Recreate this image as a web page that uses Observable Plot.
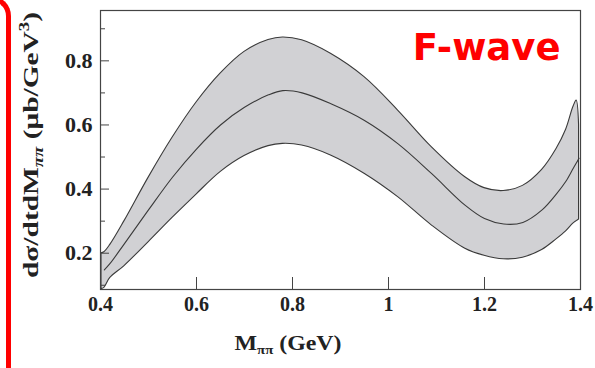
<!DOCTYPE html>
<html><head><meta charset="utf-8">
<script src="https://cdn.jsdelivr.net/npm/d3@7"></script>
<script src="https://cdn.jsdelivr.net/npm/@observablehq/plot@0.6"></script>
<style>
html,body{margin:0;padding:0;background:#fff;overflow:hidden}
#wrap{position:relative;width:595px;height:368px;overflow:hidden}
#redline{position:absolute;left:-200px;top:-4px;width:211px;height:500px;box-sizing:border-box;border-right:5.5px solid #ff0000;border-top:5.5px solid #ff0000;border-top-right-radius:20px;z-index:2}
svg{display:block;overflow:visible}
</style></head><body><div id="wrap"><div id="redline"></div></div>
<script>
// M_pipi (GeV)
const mass   = [0.402, 0.408, 0.42, 0.45, 0.50, 0.55, 0.60, 0.65, 0.70, 0.75, 0.78, 0.82, 0.88, 0.95, 1.02, 1.09, 1.16, 1.20, 1.24, 1.28, 1.32, 1.35, 1.37, 1.385, 1.392, 1.397];
const lower  = [0.088, 0.092, 0.122, 0.160, 0.234, 0.310, 0.383, 0.453, 0.503, 0.534, 0.541, 0.536, 0.505, 0.448, 0.375, 0.287, 0.214, 0.192, 0.181, 0.186, 0.210, 0.243, 0.268, 0.292, 0.300, 0.305];
const center = [null, 0.148, 0.168, 0.230, 0.335, 0.437, 0.525, 0.600, 0.655, 0.694, 0.707, 0.700, 0.666, 0.614, 0.541, 0.448, 0.349, 0.308, 0.291, 0.296, 0.335, 0.385, 0.425, 0.465, 0.483, 0.496];
const upper  = [0.200, 0.203, 0.225, 0.300, 0.435, 0.560, 0.670, 0.760, 0.828, 0.865, 0.873, 0.864, 0.822, 0.749, 0.645, 0.531, 0.437, 0.403, 0.394, 0.410, 0.460, 0.525, 0.585, 0.655, 0.676, 0.600];

const xTicks = [0.4, 0.6, 0.8, 1, 1.2, 1.4];
const xTickLabels = ["0.4", "0.6", "0.8", "1", "1.2", "1.4"];
const yTicks = [0.2, 0.4, 0.6, 0.8];
const yTickLabels = ["0.2", "0.4", "0.6", "0.8"];
const yMinorTicks = [0.1, 0.3, 0.5, 0.7, 0.9];
const panelLabel = "F-wave";

const rows = mass.map((m, i) => ({m, lo: lower[i], c: center[i], hi: upper[i]}));
const serif = "'Liberation Serif', 'Times New Roman', serif";
const ink = "#3a3a3a";

const chart = Plot.plot({
  width: 595, height: 368,
  marginLeft: 100, marginRight: 15, marginTop: 10, marginBottom: 79,
  x: {domain: [0.4, 1.4]},
  y: {domain: [0.0868, 0.957]},
  style: {background: "transparent", fontFamily: serif, color: "#222"},
  marks: [
    Plot.areaY(rows, {x: "m", y1: "lo", y2: "hi", fill: "#d1d1d4", stroke: ink, strokeWidth: 1.1, curve: "catmull-rom"}),
    Plot.line(rows.filter(d => d.c != null), {x: "m", y: "c", stroke: ink, strokeWidth: 1.1, curve: "catmull-rom"}),
    Plot.frame({stroke: "#444", strokeWidth: 1.2}),
    Plot.axisY(yTicks, {anchor: "left", tickSize: -9, tickFormat: () => "", label: null, stroke: "#444"}),
    Plot.axisY(yMinorTicks, {anchor: "left", tickSize: -5, tickFormat: () => "", label: null, stroke: "#444"}),
    Plot.axisY(yTicks, {anchor: "left", tickSize: 0, tickPadding: 8, tickFormat: d => yTickLabels[yTicks.indexOf(d)], label: null, fontSize: 22, fontWeight: "bold", fontFamily: serif, fill: "#222"}),
    Plot.axisX(xTicks, {anchor: "bottom", tickSize: -12, tickFormat: () => "", label: null, stroke: "#444"}),
    Plot.axisX(xTicks, {anchor: "bottom", tickSize: 0, tickPadding: 7, tickFormat: d => xTickLabels[xTicks.indexOf(d)], label: null, fontSize: 20, fontWeight: "bold", fontFamily: serif, fill: "#222"}),
    Plot.text([panelLabel], {frameAnchor: "top-right", text: d => d, dx: -20, dy: 37.5, textAnchor: "end", lineAnchor: "middle", fill: "#ff0000", fontSize: 37, fontWeight: "bold", fontFamily: "DejaVu Sans"})
  ]
});
document.getElementById("wrap").appendChild(chart);

const svg = d3.select(chart);
// x axis label: M_pipi (GeV)
const xl = svg.append("text")
  .attr("x", 288).attr("y", 350)
  .attr("font-family", serif).attr("font-size", 21).attr("font-weight", "bold").attr("fill", "#222")
  .attr("textLength", 107).attr("lengthAdjust", "spacingAndGlyphs");
xl.append("tspan").text("M");
xl.append("tspan").attr("dy", 4).attr("font-size", 13).text("ππ");
xl.append("tspan").attr("dy", -4).text(" (GeV)");

// y axis label: dσ/dtdM_pipi (μb/GeV^3)
const yl = svg.append("text")
  .attr("transform", "translate(37.5,145) rotate(-90)")
  .attr("text-anchor", "middle")
  .attr("font-family", serif).attr("font-size", 22).attr("font-weight", "bold").attr("fill", "#222")
  .attr("textLength", 266).attr("lengthAdjust", "spacingAndGlyphs");
yl.append("tspan").text("dσ/dtdM");
yl.append("tspan").attr("dy", 5).attr("font-size", 14).attr("font-style", "italic").text("ππ");
yl.append("tspan").attr("dy", -5).text(" (μb/GeV");
yl.append("tspan").attr("dy", -9).attr("font-size", 14).text("3");
yl.append("tspan").attr("dy", 9).text(")");
</script></body></html>
